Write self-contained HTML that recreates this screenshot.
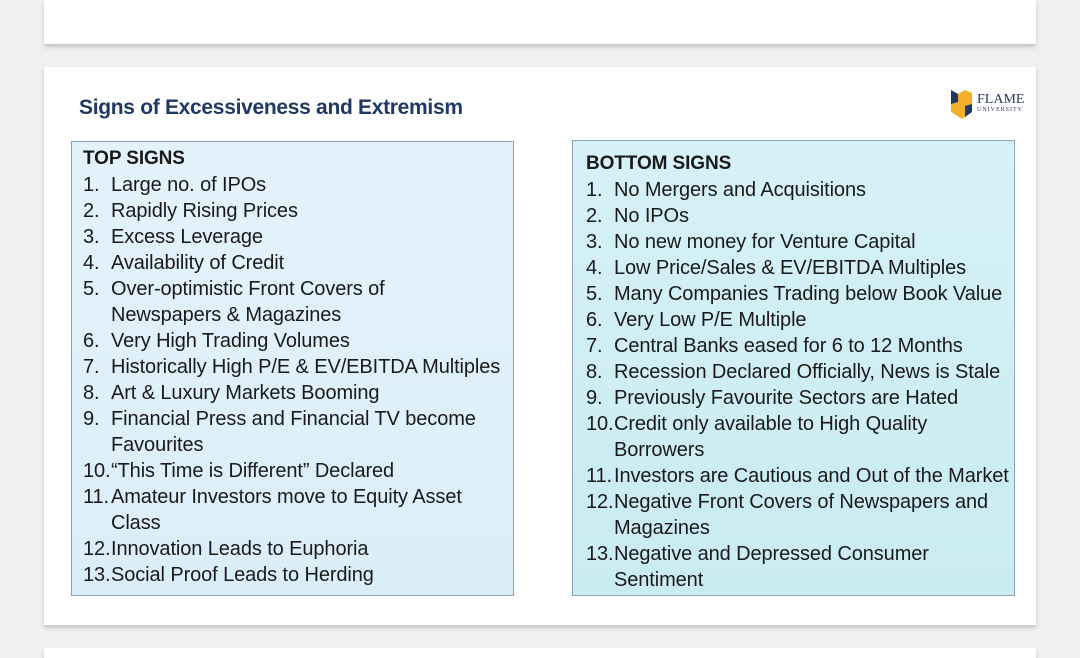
<!DOCTYPE html>
<html><head><meta charset="utf-8"><style>
body{margin:0;width:1080px;height:649px;background:#eff0f2;position:relative;overflow:hidden;font-family:"Liberation Sans",sans-serif}
.card{position:absolute;left:44px;width:992px;background:#fff;box-shadow:0 3px 4px rgba(0,0,0,.18)}
.box{position:absolute;border:1px solid #8fa3b5;box-sizing:border-box}
.line{position:absolute;font-size:20px;color:#1a1a1a;letter-spacing:-0.1px;white-space:nowrap;line-height:26px}
.num{position:absolute}
.hdr{font-weight:bold;font-size:19px}
</style></head><body>
<div class="card" style="top:0;height:44px"></div>
<div class="card" style="top:67px;height:558px"></div>
<div class="card" style="top:648px;height:10px"></div>
<div style="position:absolute;left:79px;top:96px;font-size:21px;font-weight:bold;color:#1f3864;letter-spacing:-0.3px">Signs of Excessiveness and Extremism</div>
<div style="position:absolute;left:951px;top:90px">
<svg width="22" height="30"><polygon points="0,0 7,4 14,0 21,3 21,22 11,29 0,22" fill="#f2b02a"/><polygon points="0,0 7,4 7,12 0,14" fill="#1f3864"/><polygon points="14,16 21,14 21,22 14,27" fill="#1f3864"/></svg>
<div style="position:absolute;left:26px;top:2px;font-family:'Liberation Serif',serif;font-size:14px;color:#2a3a5a">FLAME</div>
<div style="position:absolute;left:26px;top:17px;font-family:'Liberation Serif',serif;font-size:6px;color:#2a3a5a;letter-spacing:1px">UNIVERSITY</div>
</div>
<div class="box" style="left:71px;top:141px;width:443px;height:455px;background:linear-gradient(#e4f3fb,#daeefa)"></div>
<div class="box" style="left:572px;top:140px;width:443px;height:456px;background:linear-gradient(#d6f1f7,#c9ebf2)"></div>
<div id="lists"></div>
<script>
const left=["1.|Large no. of IPOs","2.|Rapidly Rising Prices","3.|Excess Leverage","4.|Availability of Credit","5.|Over-optimistic Front Covers of","|Newspapers & Magazines","6.|Very High Trading Volumes","7.|Historically High P/E & EV/EBITDA Multiples","8.|Art & Luxury Markets Booming","9.|Financial Press and Financial TV become","|Favourites","10.|“This Time is Different” Declared","11.|Amateur Investors move to Equity Asset","|Class","12.|Innovation Leads to Euphoria","13.|Social Proof Leads to Herding"];
const right=["1.|No Mergers and Acquisitions","2.|No IPOs","3.|No new money for Venture Capital","4.|Low Price/Sales & EV/EBITDA Multiples","5.|Many Companies Trading below Book Value","6.|Very Low P/E Multiple","7.|Central Banks eased for 6 to 12 Months","8.|Recession Declared Officially, News is Stale","9.|Previously Favourite Sectors are Hated","10.|Credit only available to High Quality","|Borrowers","11.|Investors are Cautious and Out of the Market","12.|Negative Front Covers of Newspapers and","|Magazines","13.|Negative and Depressed Consumer","|Sentiment"];
const c=document.getElementById('lists');
function draw(items,x,y,title,nm){
 const h=document.createElement('div');h.className='line hdr';h.style.left=x+'px';h.style.top=(y-13)+'px';h.textContent=title;
 
 
 c.appendChild(h);
 items.forEach((s,i)=>{const [n,t]=s.split('|');const d=document.createElement('div');d.className='line';
  d.style.left=x+'px';d.style.top=(y+26*(i+1)-13)+'px';
  d.innerHTML='<span class="num">'+n+'</span><span style="position:absolute;left:28px">'+t.replace(/&/g,'&amp;')+'</span>';
  
  
  c.appendChild(d);});
}
draw(left,83,159,'TOP SIGNS','top-signs');
draw(right,586,164,'BOTTOM SIGNS','bottom-signs');
</script>
</body></html>
